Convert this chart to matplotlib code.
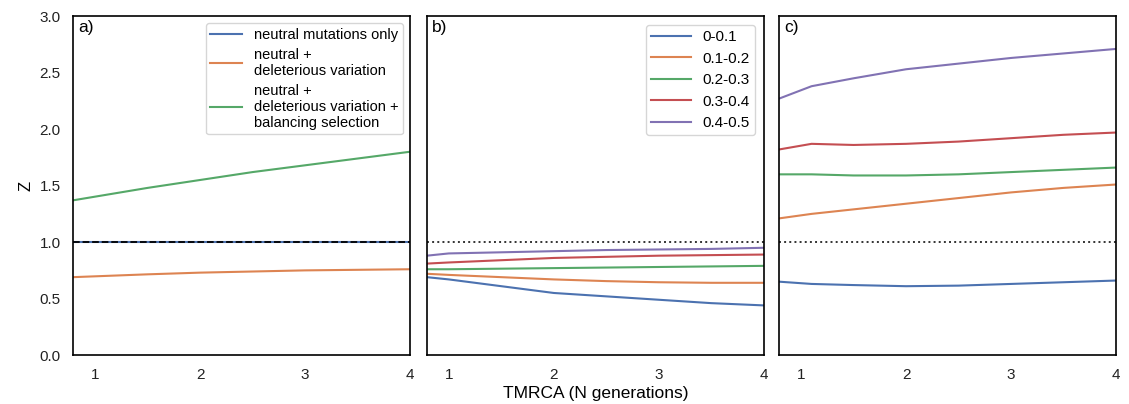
import numpy as np
import matplotlib.pyplot as plt

plt.rcParams['font.family'] = ['Liberation Sans', 'DejaVu Sans']

# panel a
xa = [0.79, 1.5, 2.0, 2.5, 3.0, 3.5, 4.0]
neutral = [1.0, 1.0, 1.0, 1.0, 1.0, 1.0, 1.0]
deleterious = [0.69, 0.715, 0.73, 0.74, 0.75, 0.755, 0.76]
balancing = [1.37, 1.48, 1.55, 1.62, 1.68, 1.74, 1.80]
labels_a = ['neutral mutations only', 'neutral +\ndeleterious variation',
            'neutral +\ndeleterious variation +\nbalancing selection']

# panels b, c: frequency bins
bins = ['0-0.1', '0.1-0.2', '0.2-0.3', '0.3-0.4', '0.4-0.5']
xb = [0.79, 1.0, 1.5, 2.0, 2.5, 3.0, 3.5, 4.0]
b_vals = [
    [0.69, 0.67, 0.61, 0.55, 0.52, 0.49, 0.46, 0.44],
    [0.72, 0.71, 0.69, 0.67, 0.655, 0.645, 0.64, 0.64],
    [0.76, 0.76, 0.765, 0.77, 0.775, 0.78, 0.785, 0.79],
    [0.81, 0.82, 0.84, 0.86, 0.87, 0.88, 0.885, 0.89],
    [0.88, 0.90, 0.91, 0.92, 0.93, 0.935, 0.94, 0.95],
]
xc = [0.79, 1.1, 1.5, 2.0, 2.5, 3.0, 3.5, 4.0]
c_vals = [
    [0.65, 0.63, 0.62, 0.61, 0.615, 0.63, 0.645, 0.66],
    [1.21, 1.25, 1.29, 1.34, 1.39, 1.44, 1.48, 1.51],
    [1.60, 1.60, 1.59, 1.59, 1.60, 1.62, 1.64, 1.66],
    [1.82, 1.87, 1.86, 1.87, 1.89, 1.92, 1.95, 1.97],
    [2.27, 2.38, 2.45, 2.53, 2.58, 2.63, 2.67, 2.71],
]

colors = ['#4c72b0', '#dd8452', '#55a868', '#c44e52', '#8172b3']

fig = plt.figure(figsize=(11.29, 4.04), dpi=100)
w, h, bot = 0.2985, 0.839, 0.121
ax_a = fig.add_axes([0.0647, bot, w, h])
ax_b = fig.add_axes([0.378, bot, w, h])
ax_c = fig.add_axes([0.690, bot, w, h])

for ax in (ax_a, ax_b, ax_c):
    ax.set_xlim(0.79, 4.0)
    ax.set_ylim(0, 3.0)
    ax.set_xticks([1, 2, 3, 4])
    ax.tick_params(length=0, labelsize=11, pad=9, colors='#222222')
    for s in ax.spines.values():
        s.set_color('black')
        s.set_linewidth(1.2)

ax_a.plot(xa, neutral, color=colors[0], lw=1.5, label=labels_a[0])
ax_a.plot(xa, deleterious, color=colors[1], lw=1.5, label=labels_a[1])
ax_a.plot(xa, balancing, color=colors[2], lw=1.5, label=labels_a[2])
ax_a.axhline(1.0, color='black', ls='--', lw=1.3)
ax_a.set_yticks(np.arange(0, 3.01, 0.5))
ax_a.set_ylabel('Z', fontsize=12)
ax_a.legend(loc='upper right', fontsize=10.5, frameon=True, edgecolor='#cccccc',
            handlelength=2.2, labelspacing=0.4, borderaxespad=0.5, borderpad=0.3)

for i in range(5):
    ax_b.plot(xb, b_vals[i], color=colors[i], lw=1.5, label=bins[i])
    ax_c.plot(xc, c_vals[i], color=colors[i], lw=1.5)
for ax in (ax_b, ax_c):
    ax.axhline(1.0, color='#333333', ls=':', lw=1.4)
    ax.set_yticks([])
ax_b.legend(loc='upper right', fontsize=11, frameon=True, edgecolor='#cccccc',
            handlelength=2.6, labelspacing=0.5, borderaxespad=0.6, borderpad=0.3)
ax_b.set_xlabel('TMRCA (N generations)', fontsize=12.5, labelpad=3)

for ax, t in zip((ax_a, ax_b, ax_c), ['a)', 'b)', 'c)']):
    ax.text(0.015, 0.99, t, transform=ax.transAxes, fontsize=12.5, va='top', ha='left')

fig.savefig('out.png', dpi=100)
plt.close()
